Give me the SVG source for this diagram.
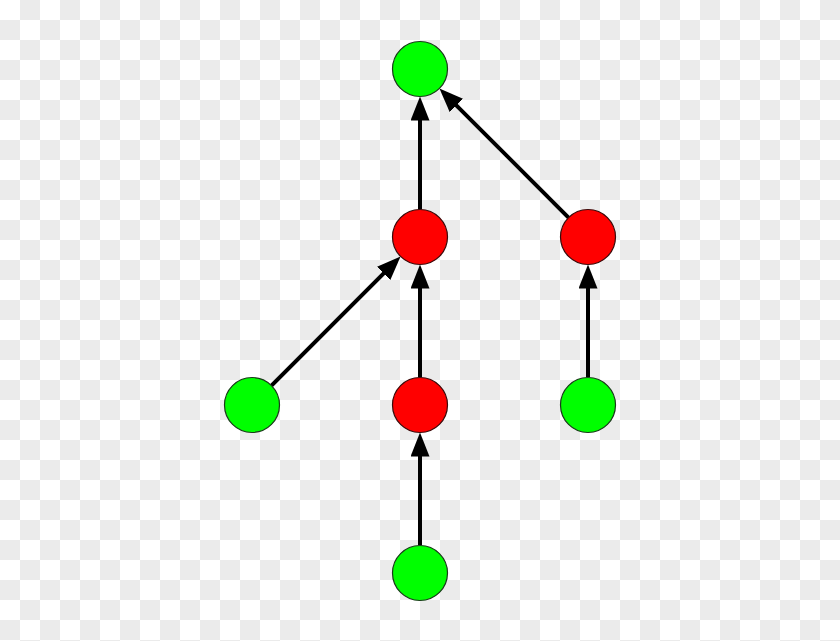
<svg xmlns="http://www.w3.org/2000/svg" width="840" height="641" viewBox="0 0 840 641">
<style>
.g{fill:#00ff00;stroke:#1a3a1a;stroke-width:1.2}
.r{fill:#ff0000;stroke:#3a0a0a;stroke-width:1.2}
.e{stroke:#000;stroke-width:4;fill:none;marker-end:url(#ah)}
</style>
<defs>
<pattern id="chk" width="40" height="40" patternUnits="userSpaceOnUse">
<rect width="40" height="40" fill="#ffffff"/>
<rect x="20" y="0" width="20" height="20" fill="#ebebeb"/>
<rect x="0" y="20" width="20" height="20" fill="#ebebeb"/>
</pattern>
<marker id="ah" markerUnits="userSpaceOnUse" markerWidth="26" markerHeight="20" refX="9" refY="9.5" orient="auto">
<path d="M0,0 L24,9.5 L0,19 z" fill="#000"/>
</marker>
</defs>
<rect width="840" height="641" fill="url(#chk)"/>
<g id="edges">
<line class="e" x1="420" y1="209.5" x2="420" y2="111.5"/>
<line class="e" x1="568.55" y1="217.55" x2="450.06" y2="99.06"/>
<line class="e" x1="271.45" y1="385.55" x2="389.94" y2="267.06"/>
<line class="e" x1="420" y1="377.5" x2="420" y2="279.5"/>
<line class="e" x1="588" y1="377.5" x2="588" y2="279.5"/>
<line class="e" x1="420" y1="545.5" x2="420" y2="447.5"/>
</g>
<g id="n1"><circle class="g" cx="420" cy="69" r="27.5"/></g>
<g id="n2"><circle class="r" cx="420" cy="237" r="27.5"/></g>
<g id="n3"><circle class="r" cx="588" cy="237" r="27.5"/></g>
<g id="n4"><circle class="g" cx="252" cy="405" r="27.5"/></g>
<g id="n5"><circle class="r" cx="420" cy="405" r="27.5"/></g>
<g id="n6"><circle class="g" cx="588" cy="405" r="27.5"/></g>
<g id="n7"><circle class="g" cx="420" cy="573" r="27.5"/></g>
</svg>
